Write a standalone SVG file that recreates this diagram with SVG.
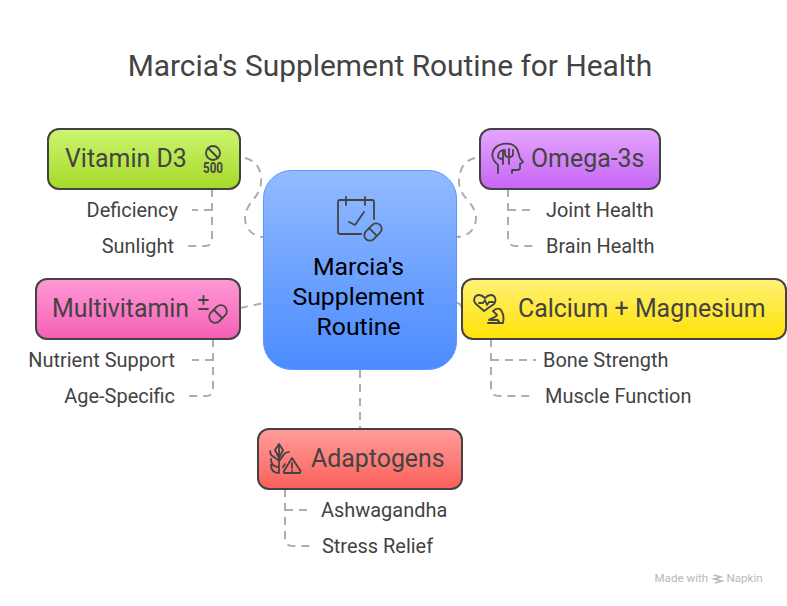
<svg xmlns="http://www.w3.org/2000/svg" width="787" height="606" viewBox="0 0 787 606">
<style>
text{font-family:Roboto,"Liberation Sans",sans-serif;fill:#434343}
.title{font-size:29.900px;text-anchor:middle}
.nl{font-size:24.900px}
.sub{font-size:19.950px}
.end{text-anchor:end}
.c{font-size:24.800px;fill:#000;text-anchor:middle}
.box{stroke:#434343;stroke-width:2}
.ic{fill:none;stroke:#434343;stroke-width:1.800;stroke-linecap:round;stroke-linejoin:round}
.dash{fill:none;stroke:#adadad;stroke-width:2;stroke-dasharray:8 6}
.wm{font-size:11.600px;fill:#b8b8b8}
</style>
<defs>
<linearGradient id="gG" x1="0" y1="0" x2="0" y2="1"><stop offset="0" stop-color="#ccf56f"/><stop offset="1" stop-color="#a5d929"/></linearGradient>
<linearGradient id="gP" x1="0" y1="0" x2="0" y2="1"><stop offset="0" stop-color="#e5a6ff"/><stop offset="1" stop-color="#c665f5"/></linearGradient>
<linearGradient id="gK" x1="0" y1="0" x2="0" y2="1"><stop offset="0" stop-color="#ff9ad6"/><stop offset="1" stop-color="#f55fb4"/></linearGradient>
<linearGradient id="gY" x1="0" y1="0" x2="0" y2="1"><stop offset="0" stop-color="#fff176"/><stop offset="1" stop-color="#ffe205"/></linearGradient>
<linearGradient id="gR" x1="0" y1="0" x2="0" y2="1"><stop offset="0" stop-color="#ff9e9a"/><stop offset="1" stop-color="#fb5f5b"/></linearGradient>
<linearGradient id="gB" x1="0" y1="0" x2="0" y2="1"><stop offset="0" stop-color="#93bbff"/><stop offset="1" stop-color="#4a8bff"/></linearGradient>
</defs>
<text class="title" x="390" y="75.500">Marcia's Supplement Routine for Health</text>
<g id="connectors">
<path class="dash" d="M245,158C258,161 262,172 261,183C260,198 245,203 245,218C245,229 253,237 264,237"/>
<path class="dash" d="M475,158C462,161 459,172 459,183C460,198 476,203 476,218C476,229 468,237 456,237"/>
<path class="dash" d="M240,308L264,303"/>
<path class="dash" d="M462,308C461,304 459,303 456,303"/>
<path class="dash" d="M360,370V430"/>
<path class="dash" d="M212,189V240Q212,246 205,246H186"/>
<path class="dash" d="M212,210H192"/>
<path class="dash" d="M508,189V238Q508,246 516,246H536"/>
<path class="dash" d="M508,210H530"/>
<path class="dash" d="M213,339V390Q213,396 206,396H186"/>
<path class="dash" d="M213,360H192"/>
<path class="dash" d="M491,339V388Q491,396 499,396H532"/>
<path class="dash" d="M491,360H536"/>
<path class="dash" d="M285,489V538Q285,546 293,546H312"/>
<path class="dash" d="M285,510H308"/>
</g>
<g id="center">
<rect x="263.500" y="170.500" width="193" height="199" rx="28" fill="url(#gB)" stroke="#5a94ff" stroke-width="1"/>
<path class="ic" d="M346,200H340Q338,200 338,202V232Q338,234 340,234H361M346,197V205M346,200H365M365,197V205M365,200H372Q374,200 374,202V219M349,222L355,225L364,212"/>
<g transform="rotate(-45 373 232)"><rect x="363" y="226.500" width="20" height="11" rx="5.500" class="ic"/><path class="ic" d="M373,226.500V237.500"/></g>
<text class="c" x="358.500" y="275">Marcia's</text>
<text class="c" x="358.500" y="305">Supplement</text>
<text class="c" x="358.500" y="335">Routine</text>
</g>
<g id="vitamin-d3">
<rect class="box" x="48" y="129" width="192" height="60" rx="11" fill="url(#gG)"/>
<text class="nl" x="65" y="167">Vitamin D3</text>
<circle class="ic" cx="213" cy="153" r="7"/><path class="ic" d="M208,148L218,158"/>
<text x="213" y="172.500" font-size="14" font-weight="700" text-anchor="middle" textLength="20" lengthAdjust="spacingAndGlyphs">500</text>
<text class="sub end" x="178" y="217">Deficiency</text>
<text class="sub end" x="174" y="253">Sunlight</text>
</g>
<g id="omega-3s">
<rect class="box" x="480" y="129" width="180" height="60" rx="11" fill="url(#gP)"/>
<text class="nl" x="531" y="167">Omega-3s</text>
<path class="ic" d="M498,173V165C491,159 491,152 495,148C501,142 513,142 517,149C519,153 519,156 520,158L523,162L520,164V168Q520,170 517,170H512V173"/>
<path class="ic" d="M503,150V164M503,150C499,151 498,154 498,157Q499,159 503,159M509,149V164M505,150V154Q505,157 509,157Q513,157 513,154V150"/>
<text class="sub" x="546" y="217">Joint Health</text>
<text class="sub" x="546" y="253">Brain Health</text>
</g>
<g id="multivitamin">
<rect class="box" x="36" y="279" width="204" height="60" rx="11" fill="url(#gK)"/>
<text class="nl" x="52" y="317">Multivitamin</text>
<path class="ic" d="M199,300H208M203.500,296V304M199,309H208"/>
<g transform="rotate(-45 218 314)"><rect x="208" y="308" width="20" height="12" rx="6" class="ic"/><path class="ic" d="M218,308V320"/></g>
<text class="sub end" x="175" y="367">Nutrient Support</text>
<text class="sub end" x="175" y="403">Age-Specific</text>
</g>
<g id="calcium-magnesium">
<rect class="box" x="462" y="279" width="324" height="60" rx="11" fill="url(#gY)"/>
<text class="nl" x="518" y="317">Calcium + Magnesium</text>
<path class="ic" d="M484,311L476,304C472,300 475,295 479,295C481,295 483,296 485,298C487,296 489,295 491,295C495,295 497,300 494,304ZM479,303H483L485,300L487,305L489,302H493"/>
<path class="ic" d="M488,323H503C504,318 503,312 500,309C497,308 495,309 493,311L497,315C496,318 491,318 489,320M491,320H497C498,320 499,321 499,323"/>
<text class="sub" x="543" y="367">Bone Strength</text>
<text class="sub" x="545" y="403">Muscle Function</text>
</g>
<g id="adaptogens">
<rect class="box" x="258" y="429" width="204" height="60" rx="11" fill="url(#gR)"/>
<text class="nl" x="311" y="467">Adaptogens</text>
<path class="ic" d="M279,473V445M279,444L275,450L279,458L283,450ZM270,451L271,455L278,460M289,452L285,453L280,460M271,459C271,464 274,467 279,467M271,465C271,471 274,473 279,473M283,467L285,464"/>
<path class="ic" d="M292,458L300.500,471Q301,473 299,473H285Q283,473 284,471ZM292,463V468M292,470.500V471"/>
<text class="sub" x="321" y="517">Ashwagandha</text>
<text class="sub" x="322" y="553">Stress Relief</text>
</g>
<g id="watermark">
<text class="wm" x="654.500" y="582">Made with</text>
<path d="M714,575L721,577L714,579L722,581L715,583" fill="none" stroke="#b8b8b8" stroke-width="1.500"/>
<text class="wm" x="726.500" y="582">Napkin</text>
</g>
</svg>
